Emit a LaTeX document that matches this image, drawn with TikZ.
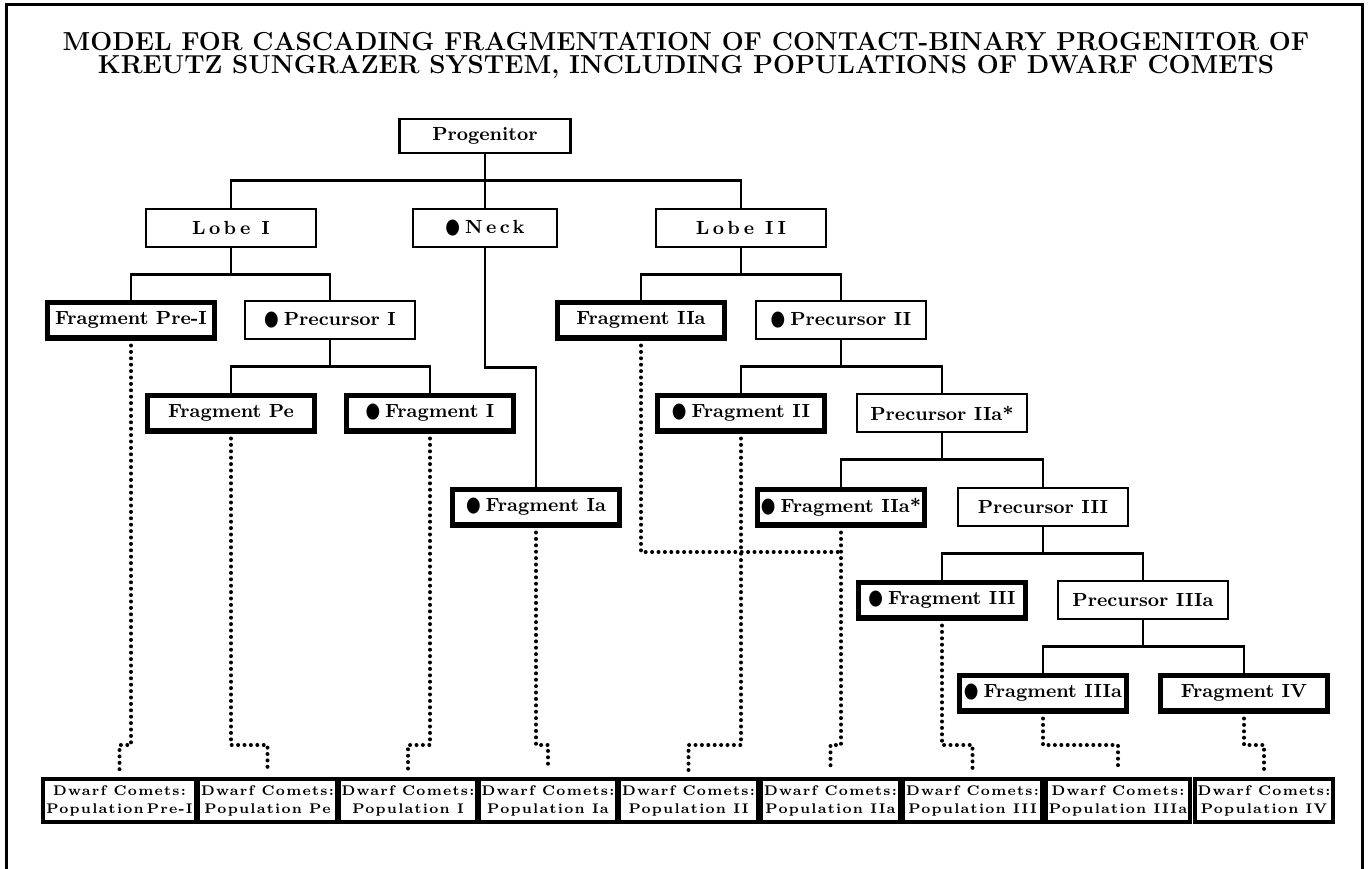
\documentclass[tikz,border=0pt]{standalone}
\usepackage{fontspec}
\setmainfont{Latin Modern Roman}
\newfontfamily\dotfont{DejaVu Sans}

\newcommand{\blob}{{\dotfont\fontsize{10.5}{11}\selectfont\scalebox{0.8}[1]{●}}\hspace{2.5pt}}

\tikzset{
  box/.style={draw, line width=1.4pt, minimum width=85pt, minimum height=19pt,
    inner sep=0pt, font=\fontsize{9.5}{11}\selectfont\bfseries},
  fragbox/.style={box, line width=2.8pt, minimum width=83.6pt, minimum height=17.7pt},
  spaced/.style={font=\fontsize{9.5}{11}\selectfont\bfseries\addfontfeature{LetterSpace=18}},
  popbox/.style={draw, line width=2pt, align=center, inner xsep=1.5pt, inner ysep=0pt,
    minimum height=21.5pt, font=\fontsize{7}{9}\selectfont\bfseries\addfontfeature{LetterSpace=9}},
  tree/.style={line width=1.4pt},
  dots/.style={line width=2pt, line cap=round, dash pattern=on 0pt off 3.2pt,
    shorten <=2.5pt, shorten >=3.5pt},
  titletext/.style={anchor=north, inner sep=0pt, align=center,
    font=\fontsize{13}{11.2}\selectfont\bfseries}
}

\begin{document}
\begin{tikzpicture}[x=0.5pt, y=-0.5pt]
  \useasboundingbox (0,0) rectangle (1370,868);
  % frame, open at the bottom
  \draw[line width=1.5pt] (6,900) -- (6,4) -- (1362.5,4) -- (1362.5,900);

  \node[titletext] (title) at (686,32) {MODEL FOR CASCADING FRAGMENTATION OF CONTACT-BINARY PROGENITOR OF\\
    KREUTZ SUNGRAZER SYSTEM, INCLUDING POPULATIONS OF DWARF COMETS};

  % tree
  \node[box, minimum height=17pt, minimum width=85.6pt] (prog) at (485,136) {Progenitor};
  \node[box, spaced] (lobeI) at (231,228) {Lobe I};
  \node[box, spaced, minimum width=72pt] (neck) at (485,228) {\blob Neck};
  \node[box, spaced] (lobeII) at (741,228) {Lobe II};
  \node[fragbox] (fragPreI) at (131,320) {Fragment Pre-I};
  \node[box] (precI) at (330,320) {\blob Precursor I};
  \node[fragbox] (fragPe) at (231,413) {Fragment Pe};
  \node[fragbox] (fragI) at (430,413) {\blob Fragment I};
  \node[fragbox] (fragIa) at (536,507) {\blob Fragment Ia};
  \node[fragbox] (fragIIa) at (641,320) {Fragment IIa};
  \node[box] (precII) at (841,320) {\blob Precursor II};
  \node[fragbox] (fragII) at (741,413) {\blob Fragment II};
  \node[box] (precIIas) at (942,413) {Precursor IIa*};
  \node[fragbox] (fragIIas) at (841,507) {\blob Fragment IIa*};
  \node[box] (precIII) at (1043,507) {Precursor III};
  \node[fragbox] (fragIII) at (942,600) {\blob Fragment III};
  \node[box] (precIIIa) at (1143,600) {Precursor IIIa};
  \node[fragbox] (fragIIIa) at (1043,693) {\blob Fragment IIIa};
  \node[fragbox] (fragIV) at (1244,693) {Fragment IV};

  % dwarf comet populations
  \node[popbox] (popPreI) at (119.5,800.5) {Dwarf Comets:\\Population\hspace{1.5pt}Pre-I};
  \node[popbox] (popPe) at (267.5,800.5) {Dwarf Comets:\\Population Pe};
  \node[popbox] (popI) at (408,800.5) {Dwarf Comets:\\Population I};
  \node[popbox] (popIa) at (548,800.5) {Dwarf Comets:\\Population Ia};
  \node[popbox] (popII) at (688.5,800.5) {Dwarf Comets:\\Population II};
  \node[popbox] (popIIa) at (830.5,800.5) {Dwarf Comets:\\Population IIa};
  \node[popbox] (popIII) at (972.5,800.5) {Dwarf Comets:\\Population III};
  \node[popbox] (popIIIa) at (1118,800.5) {Dwarf Comets:\\Population IIIa};
  \node[popbox] (popIV) at (1264,800.5) {Dwarf Comets:\\Population IV};

  \coordinate (jog) at (0,745);

  \draw[tree] (prog.south) -- (neck.north);
  \draw[tree] (neck.south) -- ++(0,119) -| (fragIa.north);
  \foreach \p/\c in {prog/lobeI, prog/lobeII, lobeI/fragPreI, lobeI/precI,
      precI/fragPe, precI/fragI, lobeII/fragIIa, lobeII/precII,
      precII/fragII, precII/precIIas, precIIas/fragIIas, precIIas/precIII,
      precIII/fragIII, precIII/precIIIa, precIIIa/fragIIIa, precIIIa/fragIV}
    \draw[tree] (\p.south) -- ++(0,26) -| (\c.north);

  \foreach \f/\q in {fragPreI/popPreI, fragPe/popPe, fragI/popI, fragIa/popIa,
      fragII/popII, fragIIas/popIIa, fragIII/popIII, fragIIIa/popIIIa, fragIV/popIV}
    \draw[dots] (\f.south) -- (\f.south |- jog) -| (\q.north);
  \draw[dots, shorten >=0pt] (fragIIa.south) |- (fragIIas.south |- 0,552);
\end{tikzpicture}
\end{document}
